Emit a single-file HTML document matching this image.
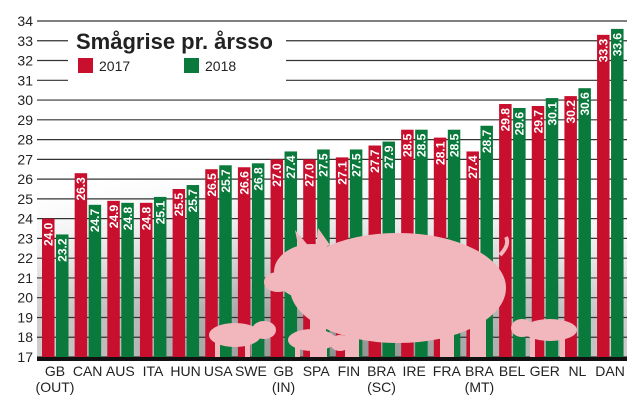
<!DOCTYPE html>
<html><head><meta charset="utf-8"><style>
body{margin:0;background:#fff;}
svg{display:block;font-family:"Liberation Sans",sans-serif;}
</style></head><body>
<svg id="chart" width="640" height="412" viewBox="0 0 640 412">
<defs>
<radialGradient id="bg" cx="0.5" cy="1" r="0.8">
<stop offset="0" stop-color="#8e8e8e"/><stop offset="0.6" stop-color="#c8c8c8"/><stop offset="1" stop-color="#ffffff"/>
</radialGradient>
<linearGradient id="bgv" x1="0" y1="0" x2="0" y2="1">
<stop offset="0" stop-color="#fff"/><stop offset="0.2" stop-color="#fff"/><stop offset="0.8" stop-color="#fff" stop-opacity="0"/>
</linearGradient>
</defs>
<rect x="37" y="100" width="590" height="260" fill="url(#bg)"/>
<rect x="37" y="100" width="590" height="260" fill="url(#bgv)"/>
<g id="grid"></g>
<g id="bars"></g>
<g id="pigs" fill="#f2b6bd">
<ellipse cx="398" cy="288" rx="108" ry="55"/>
<ellipse cx="312" cy="272" rx="38" ry="28"/>
<ellipse cx="278" cy="282" rx="14" ry="10"/>
<polygon points="295,230 312,250 300,255"/>
<polygon points="318,228 330,245 316,250"/>
<rect x="310" y="320" width="16" height="40"/>
<rect x="345" y="320" width="14" height="38"/>
<rect x="440" y="320" width="14" height="38"/>
<rect x="470" y="315" width="16" height="42"/>
<path d="M500 255 Q510 245 506 237" stroke="#f2b6bd" stroke-width="4" fill="none"/>
<ellipse cx="235" cy="335" rx="26" ry="12"/><ellipse cx="264" cy="330" rx="12" ry="9"/>
<rect x="215" y="340" width="5" height="18"/><rect x="245" y="340" width="5" height="18"/>
<ellipse cx="312" cy="340" rx="24" ry="11"/><ellipse cx="340" cy="343" rx="10" ry="8"/>
<rect x="295" y="345" width="5" height="14"/><rect x="322" y="345" width="5" height="14"/>
<ellipse cx="550" cy="330" rx="27" ry="11"/><ellipse cx="522" cy="328" rx="11" ry="9"/>
<rect x="530" y="335" width="5" height="22"/><rect x="560" y="335" width="5" height="22"/>
</g>
<g id="labels"></g>
<rect x="37" y="357" width="590" height="4" fill="#111"/>
<rect x="68" y="29" width="218" height="52" fill="#fff"/>
<text x="76" y="49" font-size="22" font-weight="bold" fill="#222">Smågrise pr. årsso</text>
<rect x="78" y="58" width="15" height="15" fill="#c8102e"/>
<text x="99" y="71" font-size="14" fill="#222">2017</text>
<rect x="184" y="58" width="15" height="15" fill="#0a7a3c"/>
<text x="205" y="71" font-size="14" fill="#222">2018</text>
<g id="xlabels"></g>
</svg>
<script>
const categories=["GB|(OUT)","CAN","AUS","ITA","HUN","USA","SWE","GB|(IN)","SPA","FIN","BRA|(SC)","IRE","FRA","BRA|(MT)","BEL","GER","NL","DAN"];
const values2017=[24.0,26.3,24.9,24.8,25.5,26.5,26.6,27.0,27.0,27.1,27.7,28.5,28.1,27.4,29.8,29.7,30.2,33.3];
const values2018=[23.2,24.7,24.8,25.1,25.7,26.7,26.8,27.4,27.5,27.5,27.9,28.5,28.5,28.7,29.6,30.1,30.6,33.6];
const labels2017=["24.0","26.3","24.9","24.8","25.5","26.5","26.6","27.0","27.0","27.1","27.7","28.5","28.1","27.4","29.8","29.7","30.2","33.3"];
const labels2018=["23.2","24.7","24.8","25.1","25.7","25.7","26.8","27.4","27.5","27.5","27.9","28.5","28.5","28.7","29.6","30.1","30.6","33.6"];
const yTicks=[17,18,19,20,21,22,23,24,25,26,27,28,29,30,31,32,33,34];
const NS="http://www.w3.org/2000/svg";
const y=v=>357-(v-17)*(336/17);
const x=i=>42+i*32.65;
const mk=(t,a,p)=>{const e=document.createElementNS(NS,t);for(const k in a)e.setAttribute(k,a[k]);p.appendChild(e);return e;};
const grid=document.getElementById('grid'),bars=document.getElementById('bars'),labs=document.getElementById('labels'),xl=document.getElementById('xlabels');
yTicks.forEach(t=>{
 const l=mk('line',{x1:37,x2:627,y1:y(t),y2:y(t),stroke:'#333','stroke-width':1.2},grid);
 
 
 const tx=mk('text',{x:33,y:y(t)+5,'text-anchor':'end','font-size':14,fill:'#222'},grid);
 tx.textContent=t;
 
 
});
categories.forEach((c,i)=>{
 [[values2017,labels2017,'#c8102e',0,'2017'],[values2018,labels2018,'#0a7a3c',14,'2018']].forEach(([vs,ls,col,off,yr])=>{
  const bx=x(i)+off,top=y(vs[i]);
  const r=mk('rect',{x:bx,y:top,width:12.5,height:357-top,fill:col},bars);
  
  
  const t=mk('text',{x:0,y:0,transform:`translate(${bx+10.5},${top+4}) rotate(-90)`,'text-anchor':'end','font-size':12,'font-weight':'bold',fill:'#fff'},labs);
  t.textContent=ls[i];
  
  
 });
 const parts=c.split('|');
 const cx=x(i)+13;
 parts.forEach((p,j)=>{
  const t=mk('text',{x:cx,y:376+j*16,'text-anchor':'middle','font-size':14,fill:'#222'},xl);
  t.textContent=p;
  
  
 });
});
</script>
</body></html>
